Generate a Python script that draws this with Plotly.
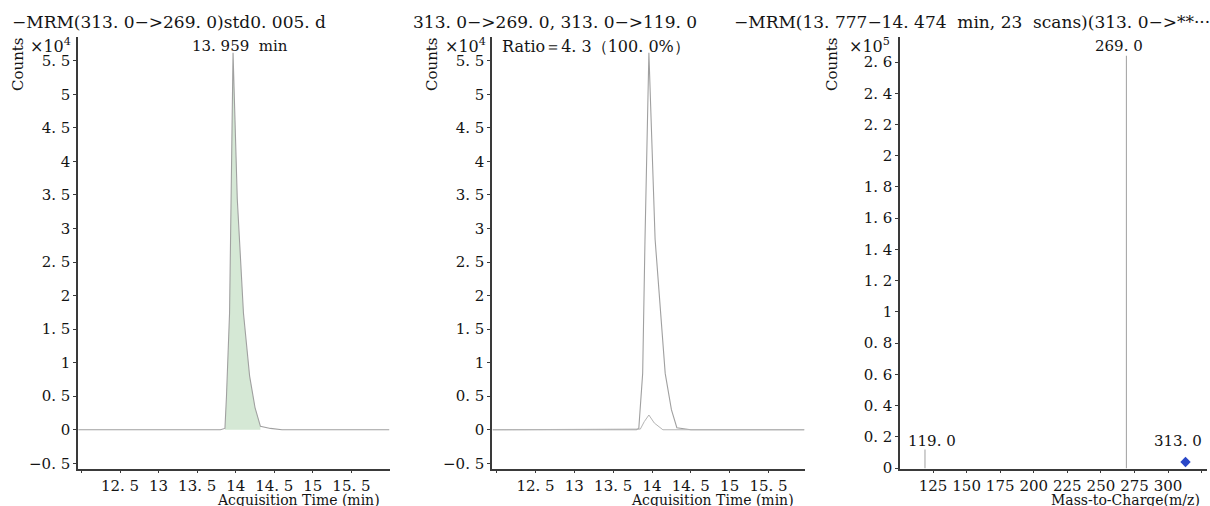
import plotly.graph_objects as go

# ---------------- data ----------------
# Panel 1: MRM 313.0->269.0 chromatogram (counts x10^4)
t1 = [11.96, 12.5, 13.0, 13.5, 13.80, 13.86, 13.88, 13.92, 13.965, 14.02, 14.10, 14.18, 14.25, 14.32, 14.45, 14.6, 15.0, 15.5, 15.99]
i1 = [0.0, 0.0, -0.01, 0.0, 0.0, 0.02, 0.5, 1.74, 5.62, 3.44, 1.74, 0.8, 0.33, 0.05, 0.02, 0.0, 0.0, -0.01, 0.0]
peak1_start, peak1_end = 13.86, 14.32

# Panel 2: quantifier (269.0) and qualifier (119.0) traces (counts x10^4)
t2 = [11.95, 12.5, 13.0, 13.5, 13.80, 13.83, 13.88, 13.91, 13.96, 14.04, 14.17, 14.25, 14.32, 14.5, 15.0, 15.5, 15.96]
i2 = [0.0, 0.0, 0.0, 0.0, 0.0, 0.02, 0.84, 2.84, 5.62, 2.84, 0.84, 0.3, 0.03, 0.0, 0.0, 0.0, 0.0]
t2q = [11.95, 13.5, 13.85, 13.90, 13.96, 14.03, 14.10, 14.14, 14.5, 15.96]
i2q = [0.0, 0.0, 0.01, 0.12, 0.22, 0.10, 0.03, 0.0, 0.0, 0.0]

# Panel 3: product ion spectrum (counts x10^5)
mz = [119.0, 269.0]
abund = [0.12, 2.64]
mz_labels = ["119. 0", "269. 0"]
precursor_mz = [313.0]
precursor_y = [0.04]
precursor_label = "313. 0"

# tick values / labels
chrom_xticks = [12, 12.5, 13, 13.5, 14, 14.5, 15, 15.5]
chrom_yticks = [-0.5, 0, 0.5, 1, 1.5, 2, 2.5, 3, 3.5, 4, 4.5, 5, 5.5]
ms_xticks = [125, 150, 175, 200, 225, 250, 275, 300, 325]
ms_yticks = [0, 0.2, 0.4, 0.6, 0.8, 1, 1.2, 1.4, 1.6, 1.8, 2, 2.2, 2.4, 2.6]


def fmt(v):
    s = ("%.1f" % abs(v)).rstrip("0").rstrip(".")
    if "." in s:
        a, b = s.split(".")
        s = a + ". " + b
    return ("−" if v < 0 else "") + s


chrom_xtext = [""] + [fmt(v) for v in chrom_xticks[1:]]
chrom_ytext = [fmt(v) for v in chrom_yticks]
ms_xtext = [str(v) for v in ms_xticks[:-1]] + [""]
ms_ytext = [fmt(v) for v in ms_yticks]

# ---------------- figure ----------------
W, H = 1210, 506          # reference picture size (positions below are in its pixels)
H_LAYOUT = 514            # the photographed viewport shows ~514 px squeezed into 506
FONT = "DejaVu Serif"
TXT = "#141414"


def px(x):
    return x / W


def py(y):
    return 1 - y / H


fig = go.Figure()

# panel 1 fill (integrated peak)
pk_t = [t for t in t1 if peak1_start <= t <= peak1_end]
pk_i = [v for t, v in zip(t1, i1) if peak1_start <= t <= peak1_end]
fig.add_trace(go.Scatter(x=pk_t, y=pk_i, xaxis="x", yaxis="y", mode="lines",
                         fill="tozeroy", fillcolor="rgba(208,230,208,0.9)",
                         line=dict(color="rgba(0,0,0,0)", width=0), hoverinfo="skip"))
fig.add_trace(go.Scatter(x=t1, y=i1, xaxis="x", yaxis="y", mode="lines",
                         line=dict(color="#a0a0a0", width=1.1)))

# panel 2
fig.add_trace(go.Scatter(x=t2, y=i2, xaxis="x2", yaxis="y2", mode="lines",
                         line=dict(color="#a0a0a0", width=1.1)))
fig.add_trace(go.Scatter(x=t2q, y=i2q, xaxis="x2", yaxis="y2", mode="lines",
                         line=dict(color="#b4b4b4", width=1.0)))

# panel 3 sticks
sx, sy = [], []
for m, a in zip(mz, abund):
    sx += [m, m, None]
    sy += [0, a, None]
fig.add_trace(go.Scatter(x=sx, y=sy, xaxis="x3", yaxis="y3", mode="lines",
                         line=dict(color="#a8a8a8", width=1.1)))
fig.add_trace(go.Scatter(x=precursor_mz, y=precursor_y, xaxis="x3", yaxis="y3", mode="markers",
                         marker=dict(symbol="diamond", size=8, color="#2a48c8")))

axis_common = dict(showgrid=False, zeroline=False, showline=True, linecolor="#3a3a3a",
                   linewidth=1.5, ticks="outside", tickcolor="#3a3a3a",
                   tickfont=dict(family=FONT, size=15, color=TXT), tickmode="array")
xaxis_common = dict(axis_common, ticklen=2)
yaxis_common = dict(axis_common, ticklen=3)

ydom = [py(469), py(37)]
fig.update_layout(
    width=W, height=H_LAYOUT, margin=dict(l=0, r=0, t=0, b=0),
    paper_bgcolor="white", plot_bgcolor="white", showlegend=False,
    xaxis=dict(domain=[px(78), px(390)], range=[11.955, 16.0], anchor="y",
               tickvals=chrom_xticks, ticktext=chrom_xtext, **xaxis_common),
    yaxis=dict(domain=ydom, range=[-0.585, 5.855], anchor="x",
               tickvals=chrom_yticks, ticktext=chrom_ytext, **yaxis_common),
    xaxis2=dict(domain=[px(492), px(805)], range=[11.94, 15.97], anchor="y2",
                tickvals=chrom_xticks, ticktext=chrom_xtext, **xaxis_common),
    yaxis2=dict(domain=ydom, range=[-0.585, 5.855], anchor="x2",
                tickvals=chrom_yticks, ticktext=chrom_ytext, **yaxis_common),
    xaxis3=dict(domain=[px(900), px(1207)], range=[100.4, 329], anchor="y3",
                tickvals=ms_xticks, ticktext=ms_xtext, **xaxis_common),
    yaxis3=dict(domain=ydom, range=[-0.005, 2.76], anchor="x3",
                tickvals=ms_yticks, ticktext=ms_ytext, **yaxis_common),
)


def ann(text, x, y, xanchor="center", size=15, angle=0, yanchor="middle"):
    fig.add_annotation(text=text, x=px(x), y=py(y), xref="paper", yref="paper",
                       xanchor=xanchor, yanchor=yanchor, showarrow=False, textangle=angle,
                       font=dict(family=FONT, size=size, color=TXT))


# titles
ann("−MRM(313. 0−>269. 0)std0. 005. d", 10, 22, "left", size=17)
ann("313. 0−>269. 0, 313. 0−>119. 0", 411, 22, "left", size=17)
ann("−MRM(13. 777−14. 474  min, 23  scans)(313. 0−>**···", 732, 22, "left", size=17)

# counts / multipliers
for cx, mx, mult in [(18, 28, "×10<sup>4</sup>"), (432, 443, "×10<sup>4</sup>"), (832, 847, "×10<sup>5</sup>")]:
    ann("Counts", cx, 64, angle=-90)
    ann(mult, mx, 45, "left", size=16)

# peak annotations
ann("13. 959  min", 240, 46)
ann("Ratio＝4. 3（100. 0%）", 500, 46, "left", size=16)
ann(mz_labels[1], 1119, 46)
ann(mz_labels[0], 932, 441)
ann(precursor_label, 1178, 441)

# x axis titles (at the bottom edge, right under the tick labels)
ann("Acquisition Time (min)", 298, 490, size=14, yanchor="top")
ann("Acquisition Time (min)", 712, 490, size=14, yanchor="top")
ann("Mass-to-Charge(m/z)", 1125, 490, size=14, yanchor="top")

fig.write_html("out.html", config={"displayModeBar": False},
               post_script="document.documentElement.style.margin='0';"
                           "document.body.style.margin='0';"
                           "document.body.style.overflow='hidden';")
